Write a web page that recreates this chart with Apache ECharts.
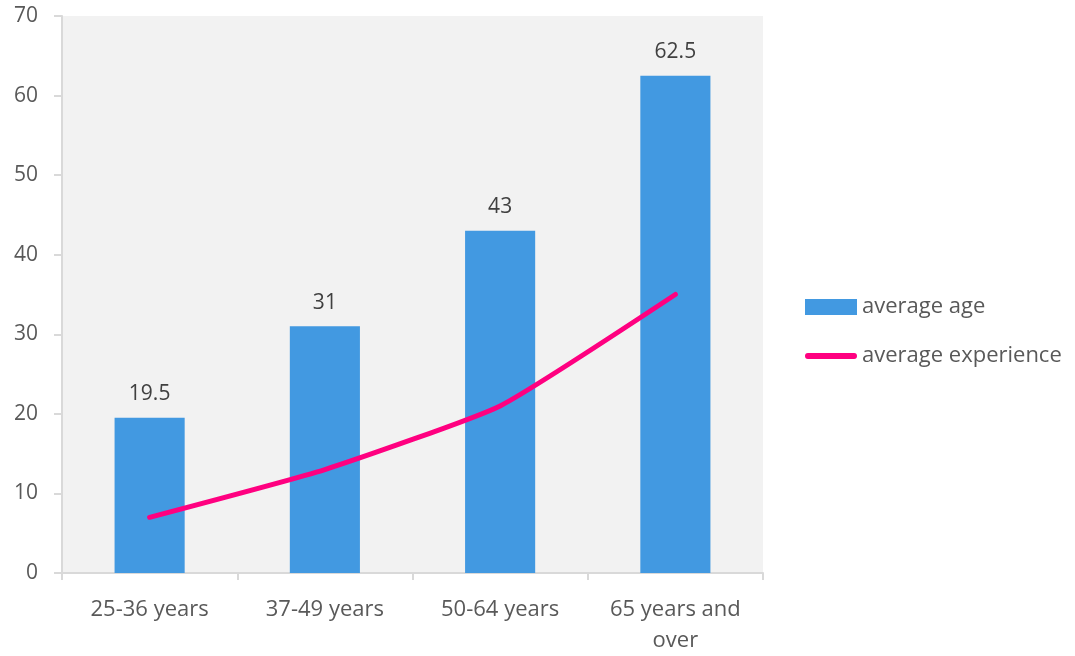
<!DOCTYPE html>
<html>
<head>
<meta charset="utf-8">
<script src="https://cdn.jsdelivr.net/npm/echarts@6/dist/echarts.min.js"></script>
<style>html,body{margin:0;padding:0;background:#fff}#c{width:1075px;height:656px}</style>
</head>
<body>
<div id="c"></div>
<script>
const categories = ['25-36 years', '37-49 years', '50-64 years', '65 years and\nover'];
const averageAge = [19.5, 31, 43, 62.5];
const averageExperience = [7, 13, 21, 35];
const yTicks = { min: 0, max: 70, interval: 10 };

const FONT = '"Open Sans", "Noto Sans", sans-serif';
const chart = echarts.init(document.getElementById('c'));
chart.setOption({
  animation: false,
  textStyle: { fontFamily: FONT },
  grid: { left: 62, right: 312, top: 16, bottom: 83, show: true, backgroundColor: '#f2f2f2', borderWidth: 0 },
  legend: {
    orient: 'vertical', left: 800, top: 291, itemGap: 27,
    itemWidth: 52, itemHeight: 16,
    textStyle: { fontFamily: FONT, fontSize: 22, color: '#595959', padding: [0, 0, 0, 0] },
    data: [
      { name: 'average age', icon: 'rect' },
      { name: 'average experience', icon: 'path://M3,0 L51,0 A3,3 0 0 1 51,6 L3,6 A3,3 0 0 1 3,0 Z', itemStyle: { color: '#ff0080' } }
    ]
  },
  xAxis: {
    type: 'category', data: categories,
    axisLine: { lineStyle: { color: '#d9d9d9', width: 2 } },
    axisTick: { show: true, length: 7, lineStyle: { color: '#d9d9d9', width: 2 } },
    axisLabel: { fontFamily: FONT, fontSize: 22, color: '#595959', margin: 21, lineHeight: 31 }
  },
  yAxis: {
    type: 'value', min: yTicks.min, max: yTicks.max, interval: yTicks.interval,
    axisLine: { show: true, lineStyle: { color: '#d9d9d9', width: 2 } },
    axisTick: { show: true, length: 8, lineStyle: { color: '#d9d9d9', width: 2 } },
    splitLine: { show: false },
    axisLabel: { fontFamily: FONT, fontSize: 21, color: '#595959', margin: 24 }
  },
  series: [
    {
      name: 'average age', type: 'bar', data: averageAge, barWidth: '40%',
      itemStyle: { color: '#4299e1' },
      label: { show: true, position: 'top', distance: 13, fontFamily: FONT, fontSize: 21, color: '#404040' }
    },
    {
      name: 'average experience', type: 'line', data: averageExperience,
      smooth: 0.15, symbol: 'none', z: 5,
      lineStyle: { color: '#ff0080', width: 5, cap: 'round' },
      itemStyle: { color: '#ff0080' }
    }
  ]
});
</script>
</body>
</html>
